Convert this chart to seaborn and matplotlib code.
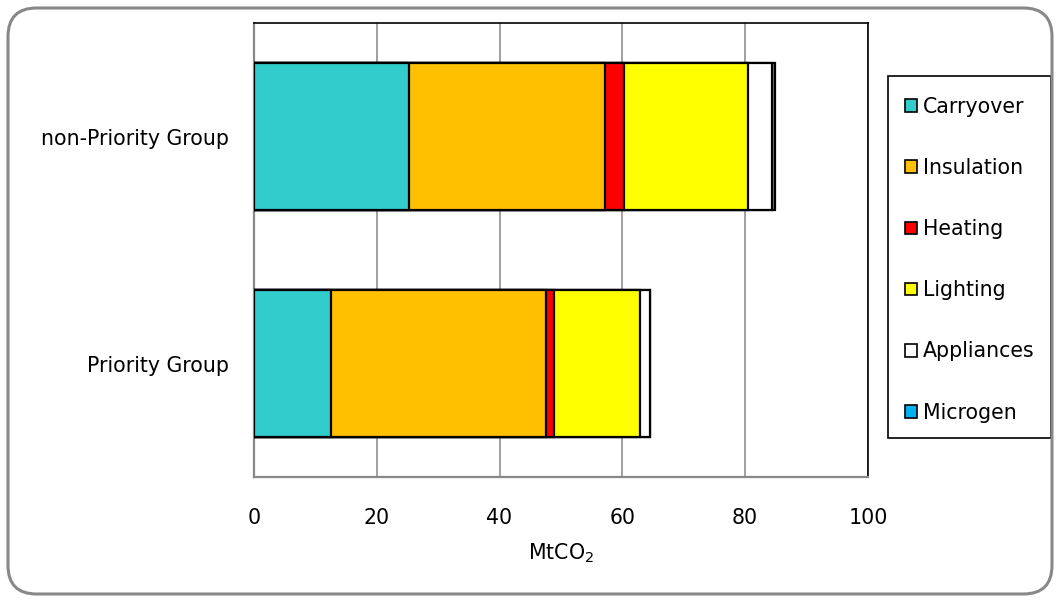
import numpy as np
import pandas as pd
import matplotlib
matplotlib.use("Agg")
import matplotlib.pyplot as plt
from matplotlib.patches import FancyBboxPatch, Patch, Rectangle
import seaborn as sns

# Emission savings by measure for each household group (MtCO2)
groups = ["non-Priority Group", "Priority Group"]
measures = ["Carryover", "Insulation", "Heating", "Lighting", "Appliances", "Microgen"]
carryover = [25.2, 12.5]
insulation = [32.0, 35.1]
heating = [3.1, 1.3]
lighting = [20.2, 14.0]
appliances = [3.9, 1.6]
microgen = [0.5, 0.05]
colors = ["#33CCCC", "#FFC000", "#FF0000", "#FFFF00", "#FFFFFF", "#00B0F0"]

series = [carryover, insulation, heating, lighting, appliances, microgen]
df = pd.DataFrame({"group": groups})
running = np.zeros(len(groups))
for name, vals in zip(measures, series):
    running = running + np.asarray(vals)
    df[name] = running

sns.set_theme(style="white")
plt.rcParams["font.family"] = ["DejaVu Sans"]
plt.rcParams["text.color"] = "black"

FS = 14.8
W, H = 1060, 602

fig = plt.figure(figsize=(W / 100, H / 100), dpi=100)
ax = fig.add_axes([0.2396, 0.2076, 0.5792, 0.7542])

# Draw cumulative totals from the outermost segment inward so each stack shows
for name, col in reversed(list(zip(measures, colors))):
    sns.barplot(data=df, y="group", x=name, orient="h", color=col,
                width=0.65, edgecolor="black", linewidth=1.6, ax=ax,
                saturation=1, zorder=3)

ax.set_xlim(0, 100)
ax.set_xticks([0, 20, 40, 60, 80, 100])
ax.grid(axis="x", color="#999999", linewidth=1.3, zorder=0)
ax.grid(axis="y", visible=False)
ax.set_axisbelow(True)
ax.set_ylabel("")
ax.set_xlabel("MtCO$_2$", fontsize=FS, color="black", labelpad=10)
ax.tick_params(axis="both", labelsize=FS, colors="black", length=0)
ax.tick_params(axis="x", pad=22)
ax.tick_params(axis="y", pad=18)
for side in ["top", "right"]:
    ax.spines[side].set_color("black")
    ax.spines[side].set_linewidth(1.2)
for side in ["left", "bottom"]:
    ax.spines[side].set_color("#888888")
    ax.spines[side].set_linewidth(1.6)

# Legend entries with a separate frame box around them
handles = [Patch(facecolor=c, edgecolor="black", linewidth=1.2) for c in colors]
leg = fig.legend(handles, measures, loc="upper left",
                 bbox_to_anchor=(905 / W, 1 - 97 / H),
                 fontsize=FS, frameon=False,
                 handlelength=0.58, handleheight=0.58, handletextpad=0.3,
                 labelspacing=2.0, borderpad=0, borderaxespad=0)
for t in leg.get_texts():
    t.set_color("black")
fig.patches.append(Rectangle((888 / W, 1 - 438 / H), 163 / W, 362 / H,
                             transform=fig.transFigure, facecolor="none",
                             edgecolor="black", linewidth=1.2))

border = FancyBboxPatch((8 / W, 8 / H), 1044 / W, 586 / H,
                        boxstyle="round,pad=0,rounding_size=0.027",
                        transform=fig.transFigure, facecolor="none",
                        edgecolor="#888888", linewidth=2.2,
                        mutation_aspect=W / H)
fig.patches.append(border)

fig.savefig("out.png", dpi=100, facecolor="white")
